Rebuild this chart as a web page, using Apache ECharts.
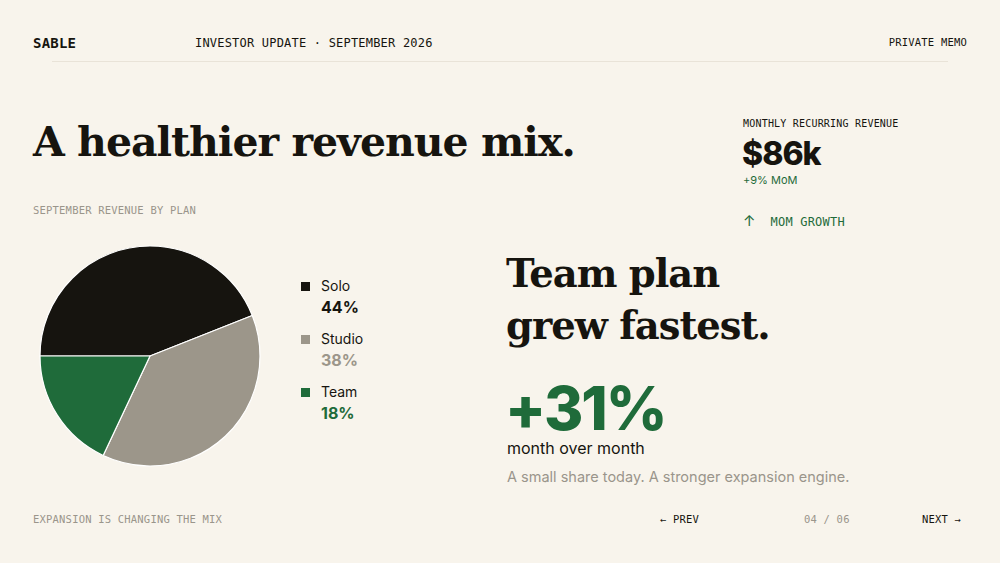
<!DOCTYPE html>
<html><head><meta charset="utf-8">
<script src="https://cdn.jsdelivr.net/npm/echarts@6/dist/echarts.min.js"></script>
<style>
body{margin:0;background:#f8f4ec;}
#page{position:relative;width:1000px;height:563px;background:#f8f4ec;overflow:hidden;color:#16140f;font-family:Inter,sans-serif;}
.mono{font-family:"DejaVu Sans Mono","Liberation Mono",monospace;font-size:10.5px;letter-spacing:0.2px;position:absolute;}
.serif{font-family:"DejaVu Serif","Liberation Serif",serif;font-weight:bold;position:absolute;letter-spacing:-1px;}
.abs{position:absolute;}
#chart{position:absolute;left:0;top:230px;width:300px;height:250px;}
.lg{position:absolute;left:301px;}
.lg i{position:absolute;left:0;top:5px;width:9px;height:9px;}
.lg .n{position:absolute;left:20px;top:0;font-size:14px;white-space:nowrap;}
.lg .p{position:absolute;left:20px;top:20px;font-size:16px;font-weight:bold;}
</style></head><body>
<div id="page">
  <div class="mono" style="left:33px;top:35px;font-size:14px;font-weight:bold;">SABLE</div>
  <div class="mono" style="left:195px;top:36px;font-size:12px;">INVESTOR UPDATE · SEPTEMBER 2026</div>
  <div class="mono" style="right:33px;top:36px;">PRIVATE MEMO</div>
  <div class="abs" style="left:52px;top:61px;width:896px;height:1px;background:#e9e3d8;"></div>

  <div class="serif" style="left:33px;top:118px;font-size:41px;">A healthier revenue mix.</div>
  <div class="mono" style="left:33px;top:204px;color:#9a958b;">SEPTEMBER REVENUE BY PLAN</div>

  <div class="mono" style="left:743px;top:118px;font-size:10px;">MONTHLY RECURRING REVENUE</div>
  <div class="abs" style="left:742px;top:134px;font-size:32px;font-weight:800;letter-spacing:-1px;">$86k</div>
  <div class="abs" style="left:743px;top:173px;font-size:11px;color:#1f6b3a;">+9% MoM</div>
  <div class="mono" style="left:743px;top:211px;font-size:12px;color:#1f6b3a;"><span style="font-family:Inter;font-size:15px;">↑</span>&nbsp; MOM GROWTH</div>

  <div class="serif" style="left:506px;top:248px;font-size:38.5px;line-height:52px;">Team plan<br>grew fastest.</div>
  <div class="abs" style="left:505px;top:372px;font-size:60px;font-weight:800;color:#1f6b3a;letter-spacing:-2px;">+31%</div>
  <div class="abs" style="left:507px;top:438px;font-size:16px;">month over month</div>
  <div class="abs" style="left:507px;top:468px;font-size:14.5px;color:#9a958b;">A small share today. A stronger expansion engine.</div>

  <div class="mono" style="left:33px;top:513px;color:#9a958b;">EXPANSION IS CHANGING THE MIX</div>
  <div class="mono" style="left:660px;top:513px;">← PREV</div>
  <div class="mono" style="left:804px;top:513px;color:#9a958b;">04 / 06</div>
  <div class="mono" style="left:922px;top:513px;">NEXT →</div>

  <div id="chart"></div>
  <div id="legend"></div>
</div>
<script>
var plans = ["Solo", "Studio", "Team"];
var shares = [44, 38, 18];
var colors = ["#16140f", "#9c968a", "#1f6b3a"];

// legend built from the same arrays
var html = "";
plans.forEach(function(p, i) {
    html += '<div class="lg" style="top:' + (277 + i * 53) + 'px">' +
        '<i style="background:' + colors[i] + '"></i>' +
        '<span class="n">' + p + '</span>' +
        '<span class="p" style="color:' + colors[i] + '">' + shares[i] + '%</span></div>';
});
document.getElementById("legend").innerHTML = html;

var chart = echarts.init(document.getElementById("chart"));
chart.setOption({
    animation: false,
    series: [{
        type: "pie",
        center: [150, 126],
        radius: 110,
        startAngle: 180,
        label: {show: false},
        itemStyle: {borderColor: "#ffffff", borderWidth: 1.2},
        data: plans.map(function(p, i) {
            return {name: p, value: shares[i], itemStyle: {color: colors[i]}};
        })
    }]
});
</script>
</body></html>
